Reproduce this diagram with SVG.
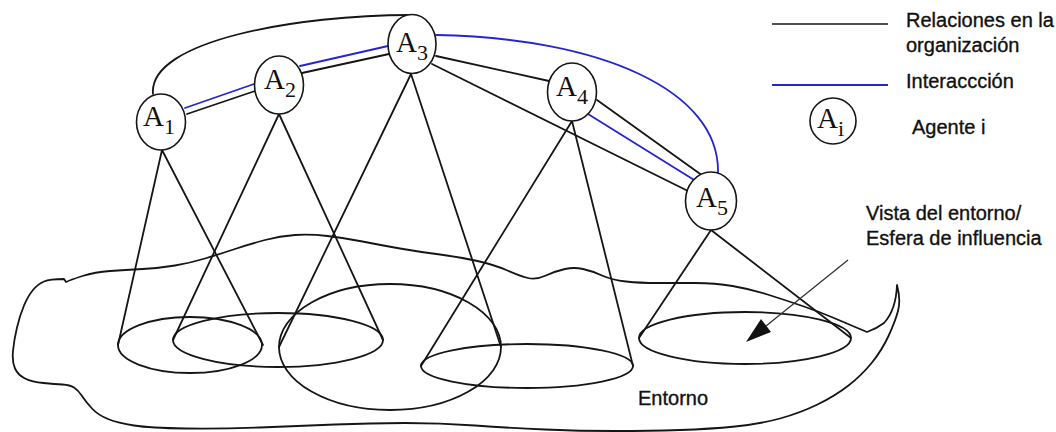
<svg xmlns="http://www.w3.org/2000/svg" width="1056" height="432" viewBox="0 0 1056 432">
<style>
.k{fill:none;stroke:#151515;stroke-width:1.8;stroke-linecap:round;stroke-linejoin:round}
.b{fill:none;stroke:#2424d0;stroke-width:1.8;stroke-linecap:round}
.n{fill:#fff;stroke:#151515;stroke-width:1.6}
.lab{font-family:"Liberation Serif","Times New Roman",serif;font-size:29px;fill:#111}
.sub{font-size:22px}
.t{font-family:"Liberation Sans",Arial,sans-serif;font-size:20px;fill:#111;stroke:#111;stroke-width:0.35}
</style>
<rect width="1056" height="432" fill="#fff"/>
<g id="environment">
<path class="k" d="M867,332 L857.5,328 Q848,324 834,318 Q820,312 802.5,306 Q785,300 767.5,294.5 Q750,289 732.5,286 Q715,283 695,283 Q675,283 657.5,283 Q640,283 626,281.5 Q612,280 602,275.5 Q592,271 583,269 Q574,267 565,269 Q556,271 546,275.5 Q536,280 528,278 Q520,276 507.5,270.5 Q495,265 477.5,261 Q460,257 440,254.5 Q420,252 400,248.5 Q380,245 362.5,241.5 Q345,238 327.5,236 Q310,234 295,235 Q280,236 265,240 Q250,244 235,249 Q220,254 205,258.5 Q190,263 175,265.5 Q160,268 142.5,269 Q125,270 110,271 Q95,272 82.5,276 Q70,280 66,282 L64,279 Q50,279 44,281.5 Q38,284 33,290 Q28,296 24,305.5 Q20,315 17,327.5 Q14,340 13,351 Q12,362 15,368.5 Q18,375 25,378.5 Q32,382 43.5,383 Q55,384 62.5,384.5 Q70,385 74,387.5 Q78,390 82,396 Q86,402 92,408.5 Q98,415 108,419 Q118,423 134,425.5 Q150,428 185,428.5 Q220,429 260,427.5 Q300,426 335,424.5 Q370,423 405,423 Q440,423 475,425.5 Q510,428 545,429.5 Q580,431 615,431 Q650,431 680,430 Q710,429 735,426.5 Q760,424 780,418.5 Q800,413 817.5,404.5 Q835,396 848.5,385.5 Q862,375 872,362.5 Q882,350 888.5,336 Q895,322 898,311 Q901,300 897,285 Q896,310 884,323 Q876,329 867,332 Z"/>
<ellipse class="k" cx="190" cy="345" rx="72" ry="28"/>
<ellipse class="k" cx="278" cy="340" rx="105" ry="27"/>
<ellipse class="k" cx="390" cy="347" rx="111" ry="63"/>
<ellipse class="k" cx="527" cy="366" rx="106" ry="22"/>
<ellipse class="k" cx="745" cy="338" rx="106" ry="26"/>
</g>
<g id="connectors">
<path class="k" d="M153,94 C148,40 300,15 410,15"/>
<line class="k" x1="187" y1="114" x2="255" y2="91"/>
<line class="k" x1="302" y1="73" x2="389" y2="54"/>
<line class="k" x1="436" y1="56" x2="549" y2="81"/>
<line class="k" x1="432" y1="64" x2="688" y2="191"/>
<line class="k" x1="597" y1="100" x2="703" y2="176"/>
<line class="b" x1="185" y1="108" x2="254" y2="84"/>
<line class="b" x1="300" y1="66" x2="388" y2="46"/>
<line class="b" x1="588" y1="114" x2="699" y2="183"/>
<path class="b" d="M436,35 C600,38 720,90 718,173"/>
<polyline class="k" points="118,345 162,150 263,345"/>
<polyline class="k" points="173,340 279,114 383,340"/>
<polyline class="k" points="279,347 411,74 501,347"/>
<polyline class="k" points="421,366 572,121 633,366"/>
<polyline class="k" points="639,338 711,230 851,338"/>
<line x1="848" y1="260" x2="766" y2="326" stroke="#333" stroke-width="1.3"/>
<polygon points="746,342 761,319 771,332" fill="#111"/>
</g>
<g id="A1"><ellipse class="n" cx="161" cy="122" rx="24.5" ry="28"/><text class="lab" x="143" y="126">A<tspan class="sub" dy="8">1</tspan></text></g>
<g id="A2"><ellipse class="n" cx="279" cy="85" rx="24.5" ry="29"/><text class="lab" x="264" y="89">A<tspan class="sub" dy="8">2</tspan></text></g>
<g id="A3"><ellipse class="n" cx="412" cy="44" rx="24" ry="29.5"/><text class="lab" x="396" y="52">A<tspan class="sub" dy="8">3</tspan></text></g>
<g id="A4"><ellipse class="n" cx="572" cy="92" rx="24.5" ry="29"/><text class="lab" x="556" y="96">A<tspan class="sub" dy="8">4</tspan></text></g>
<g id="A5"><ellipse class="n" cx="711" cy="201" rx="25.5" ry="29"/><text class="lab" x="696" y="207">A<tspan class="sub" dy="8">5</tspan></text></g>
<g id="legend">
<line x1="772" y1="24" x2="888" y2="24" stroke="#151515" stroke-width="1.6"/>
<line x1="772" y1="85" x2="888" y2="85" stroke="#2424d0" stroke-width="2"/>
<ellipse class="n" cx="833" cy="121" rx="23" ry="23"/>
<text class="lab" x="817" y="128">A<tspan class="sub" dy="8">i</tspan></text>
<text class="t" x="906" y="27">Relaciones en la</text>
<text class="t" x="906" y="52">organización</text>
<text class="t" x="906" y="88">Interaccción</text>
<text class="t" x="912" y="134">Agente i</text>
<text class="t" x="866" y="220">Vista del entorno/</text>
<text class="t" x="866" y="245">Esfera de influencia</text>
<text class="t" x="638" y="405">Entorno</text>
</g>
</svg>
